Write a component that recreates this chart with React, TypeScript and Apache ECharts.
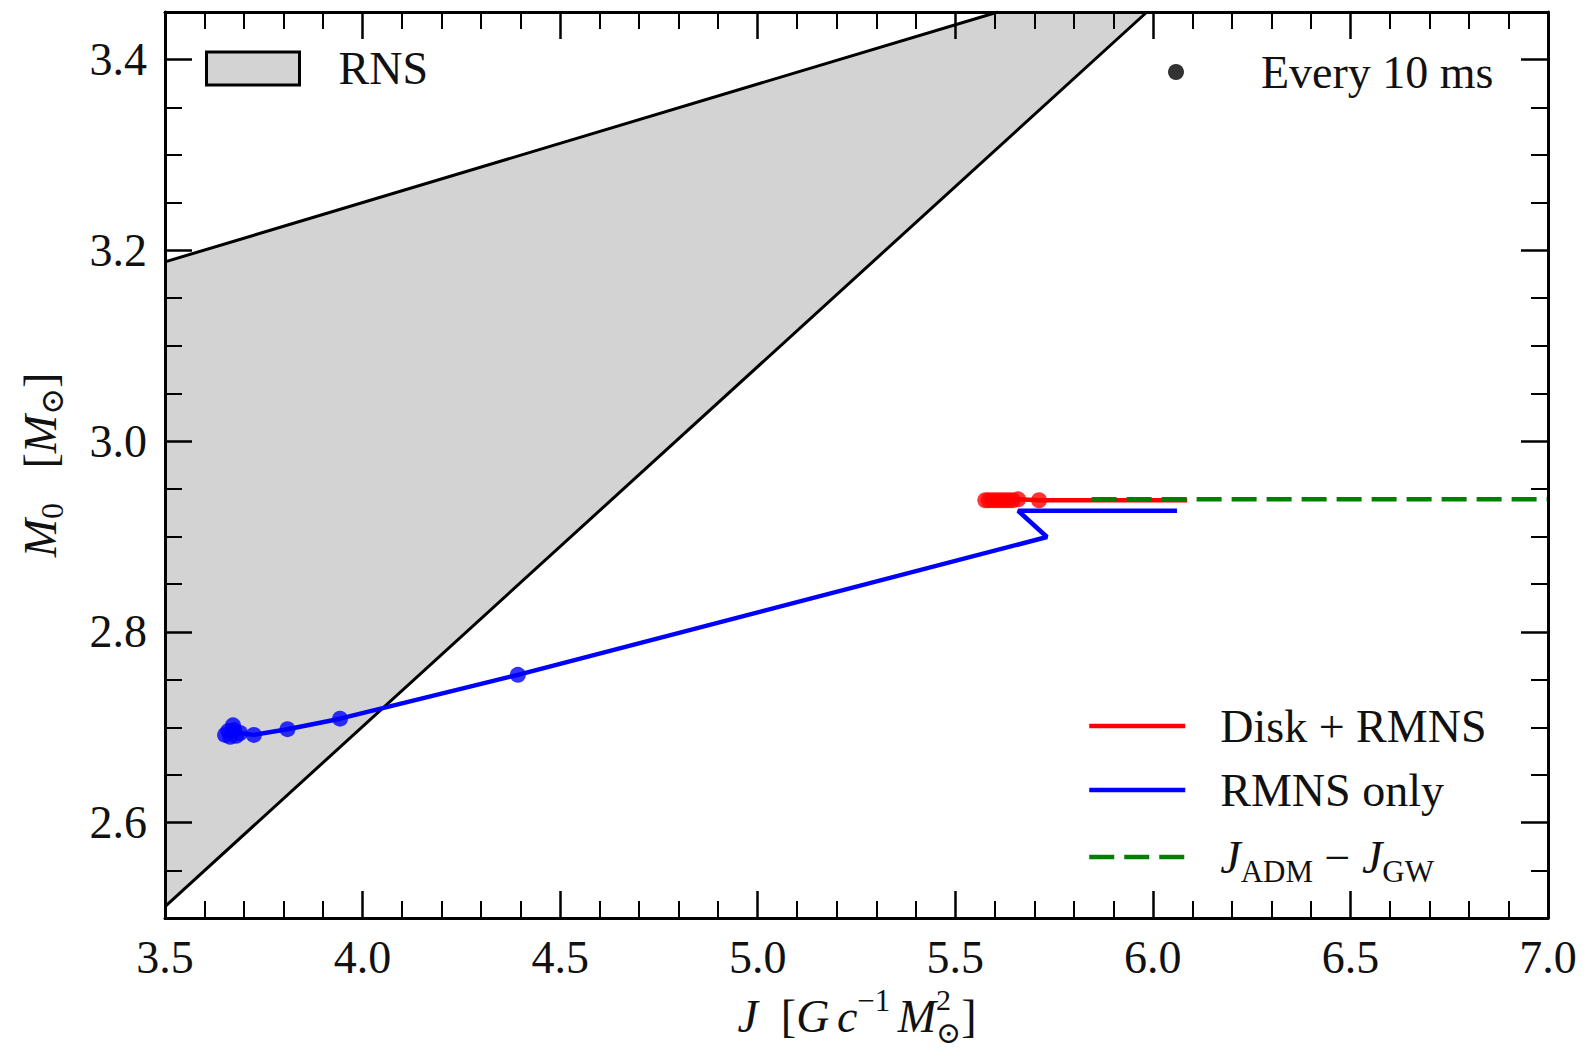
import React, { useEffect, useRef } from 'react';
import * as echarts from 'echarts';

// ---- axis ranges ----
const X_MIN = 3.5;
const X_MAX = 7.0;
const X_INTERVAL = 0.5;
const Y_MIN = 2.5;
const Y_MAX = 3.45;

// ---- RNS region boundaries (J, M0) ----
const rnsUpper = [[3.5, 3.188], [5.608, 3.45]];
const rnsLower = [[3.5, 2.512], [5.985, 3.45]];

// ---- Disk + RMNS (red) ----
const diskRmnsLine = [[6.087, 2.938], [5.712, 2.938], [5.659, 2.939], [5.645, 2.938], [5.576, 2.938]];
const diskRmnsDots = [
  [5.576, 2.938], [5.585, 2.938], [5.595, 2.938], [5.605, 2.938], [5.615, 2.938],
  [5.625, 2.938], [5.635, 2.938], [5.645, 2.938], [5.659, 2.939], [5.712, 2.938],
];

// ---- RMNS only (blue) ----
const rmnsOnlyLine = [
  [6.061, 2.927], [5.659, 2.927], [5.732, 2.8995], [4.393, 2.755], [3.943, 2.709],
  [3.81, 2.698], [3.725, 2.692], [3.69, 2.694], [3.672, 2.702], [3.66, 2.696],
  [3.652, 2.692], [3.665, 2.69],
];
const rmnsOnlyDots = [
  [4.393, 2.755], [3.943, 2.709], [3.81, 2.698], [3.725, 2.692], [3.69, 2.694],
  [3.672, 2.702], [3.675, 2.697], [3.66, 2.696], [3.652, 2.692], [3.665, 2.69], [3.68, 2.691],
];

// ---- J_ADM - J_GW (green dashed) ----
const jAdmGwLine = [[5.845, 2.939], [7.0, 2.939]];

const FONT = '"Liberation Serif", "DejaVu Serif", serif';
const TXT = '#111';

type Piece = { t: string; size: number; italic?: boolean; dy?: number; stack?: boolean };

function mathGroup(pieces: Piece[], cx: number, cy: number, rotation: number) {
  const ctx = document.createElement('canvas').getContext('2d') as CanvasRenderingContext2D;
  const fontOf = (p: Piece) => `${p.italic ? 'italic ' : ''}${p.size}px ${FONT}`;
  const placed: { p: Piece; x: number }[] = [];
  let x = 0;
  for (let k = 0; k < pieces.length; k++) {
    const p = pieces[k];
    ctx.font = fontOf(p);
    const w = ctx.measureText(p.t).width;
    placed.push({ p, x });
    if (p.stack && k + 1 < pieces.length) {
      const q = pieces[k + 1];
      ctx.font = fontOf(q);
      const w2 = ctx.measureText(q.t).width;
      placed.push({ p: q, x });
      x += Math.max(w, w2);
      k++;
    } else {
      x += w;
    }
  }
  const total = x;
  return {
    type: 'group',
    x: cx,
    y: cy,
    rotation,
    silent: true,
    children: placed.map(({ p, x: px }) => ({
      type: 'text',
      x: px - total / 2,
      y: p.dy || 0,
      style: {
        text: p.t,
        font: fontOf(p),
        fill: TXT,
        align: 'left',
        verticalAlign: 'middle',
        textAlign: 'left',
        textVerticalAlign: 'middle',
      },
    })),
  };
}

export default function App() {
  const ref = useRef<HTMLDivElement>(null);

  useEffect(() => {
    if (!ref.current) return;
    const chart = echarts.init(ref.current, undefined, { renderer: 'svg' });

    const axisLine = { show: true, lineStyle: { color: '#000', width: 3 } };
    const majorTick = { show: true, inside: true, length: 27, lineStyle: { color: '#000', width: 2.5 } };
    const minorTickX = { show: true, splitNumber: 5, length: 17, lineStyle: { color: '#000', width: 2 } };
    const minorTickY = { show: true, splitNumber: 4, length: 17, lineStyle: { color: '#000', width: 2 } };
    const labelStyle = { fontFamily: FONT, fontSize: 46, color: TXT };

    const xTitle = mathGroup(
      [
        { t: 'J', size: 46, italic: true },
        { t: '  ', size: 46 },
        { t: '[', size: 46 },
        { t: 'G', size: 46, italic: true },
        { t: ' ', size: 30 },
        { t: 'c', size: 46, italic: true },
        { t: '−1', size: 31, dy: -16 },
        { t: ' ', size: 30 },
        { t: 'M', size: 46, italic: true },
        { t: '2', size: 30, dy: -17, stack: true },
        { t: '⊙', size: 30, dy: 16 },
        { t: ']', size: 46 },
      ],
      857,
      1016,
      0
    );
    const yTitle = mathGroup(
      [
        { t: 'M', size: 46, italic: true },
        { t: '0', size: 32, dy: 12 },
        { t: '   ', size: 46 },
        { t: '[', size: 46 },
        { t: 'M', size: 46, italic: true },
        { t: '⊙', size: 32, dy: 12 },
        { t: ']', size: 46 },
      ],
      40,
      465,
      Math.PI / 2
    );

    const legendBase = {
      orient: 'horizontal',
      padding: 0,
      selectedMode: false,
      lineStyle: { width: 4.5, type: 'inherit' },
      textStyle: {
        fontFamily: FONT,
        fontSize: 46,
        color: TXT,
        lineHeight: 60,
        padding: [0, 0, 0, 30],
        rich: {
          i: { fontFamily: FONT, fontSize: 46, fontStyle: 'italic', color: TXT, lineHeight: 60 },
          n: { fontFamily: FONT, fontSize: 46, color: TXT, lineHeight: 60 },
          sub: { fontFamily: FONT, fontSize: 31, color: TXT, lineHeight: 30, verticalAlign: 'bottom' },
        },
      },
    };

    const option: any = {
      animation: false,
      backgroundColor: '#fff',
      grid: { left: 165, right: 37, top: 12, bottom: 137, containLabel: false, outerBoundsMode: 'none' },
      xAxis: [
        {
          type: 'value', min: X_MIN, max: X_MAX, interval: X_INTERVAL, position: 'bottom', z: 10,
          axisLine, axisTick: majorTick, minorTick: minorTickX, splitLine: { show: false },
          axisLabel: { ...labelStyle, margin: 16, formatter: (v: number) => v.toFixed(1) },
        },
        {
          type: 'value', min: X_MIN, max: X_MAX, interval: X_INTERVAL, position: 'top', z: 10,
          axisLine, axisTick: majorTick, minorTick: minorTickX, splitLine: { show: false },
          axisLabel: { show: false },
        },
      ],
      yAxis: [
        {
          type: 'value', min: Y_MIN, max: Y_MAX, splitNumber: 5, position: 'left', z: 10,
          axisLine, axisTick: majorTick, minorTick: minorTickY, splitLine: { show: false },
          axisLabel: { ...labelStyle, margin: 18, showMinLabel: false, showMaxLabel: false, formatter: (v: number) => v.toFixed(1) },
        },
        {
          type: 'value', min: Y_MIN, max: Y_MAX, splitNumber: 5, position: 'right', z: 10,
          axisLine, axisTick: majorTick, minorTick: minorTickY, splitLine: { show: false },
          axisLabel: { show: false },
        },
      ],
      legend: [
        {
          ...legendBase,
          left: 205, top: 38.5, itemWidth: 93, itemHeight: 33,
          textStyle: { ...legendBase.textStyle, padding: [0, 0, 0, 34] },
          data: [{ name: 'RNS', icon: 'rect', itemStyle: { color: '#d3d3d3', borderColor: '#000', borderWidth: 3 } }],
        },
        {
          ...legendBase,
          left: 1168, top: 42, itemWidth: 16, itemHeight: 16,
          textStyle: { ...legendBase.textStyle, padding: [0, 0, 0, 72] },
          data: [{ name: 'Every 10 ms', icon: 'circle', itemStyle: { color: '#000' } }],
        },
        { ...legendBase, left: 1087, top: 696, itemWidth: 96, itemHeight: 2, data: ['Disk + RMNS'] },
        { ...legendBase, left: 1087, top: 760, itemWidth: 96, itemHeight: 2, data: ['RMNS only'] },
        {
          ...legendBase, left: 1087, top: 827, itemWidth: 96, itemHeight: 2, data: ['J_ADM − J_GW'],
          formatter: () => '{i|J}{sub|ADM}{n| − }{i|J}{sub|GW}',
        },
      ],
      graphic: [xTitle, yTitle],
      series: [
        {
          name: 'RNS',
          type: 'custom',
          coordinateSystem: 'cartesian2d',
          xAxisIndex: 0,
          yAxisIndex: 0,
          z: 1,
          silent: true,
          itemStyle: { color: '#d3d3d3' },
          data: [[X_MIN, Y_MIN]],
          renderItem: (_params: any, api: any) => {
            const pts = [rnsLower[0], rnsUpper[0], rnsUpper[1], rnsLower[1]].map((p) => api.coord(p));
            return { type: 'polygon', shape: { points: pts }, style: { fill: '#d3d3d3' } };
          },
        },
        {
          name: 'RNS upper', type: 'line', data: rnsUpper, symbol: 'none', z: 2, silent: true,
          lineStyle: { color: '#000', width: 3 },
        },
        {
          name: 'RNS lower', type: 'line', data: rnsLower, symbol: 'none', z: 2, silent: true,
          lineStyle: { color: '#000', width: 3 },
        },
        {
          name: 'RMNS only', type: 'line', data: rmnsOnlyLine, symbol: 'none', z: 3, silent: true,
          itemStyle: { color: '#0000ff' }, lineStyle: { color: '#0000ff', width: 4.5 },
        },
        {
          name: 'RMNS only dots', type: 'scatter', data: rmnsOnlyDots, symbol: 'circle', symbolSize: 16, z: 3, silent: true,
          itemStyle: { color: '#0000ff' },
        },
        {
          name: 'Disk + RMNS', type: 'line', data: diskRmnsLine, symbol: 'none', z: 4, silent: true,
          itemStyle: { color: '#ff0000' }, lineStyle: { color: '#ff0000', width: 4.5 },
        },
        {
          name: 'Disk + RMNS dots', type: 'scatter', data: diskRmnsDots, symbol: 'circle', symbolSize: 16, z: 4, silent: true,
          itemStyle: { color: '#ff0000' },
        },
        {
          name: 'J_ADM − J_GW', type: 'line', data: jAdmGwLine, symbol: 'none', z: 5, silent: true,
          itemStyle: { color: '#008000' }, lineStyle: { color: '#008000', width: 4.5, type: [25, 10] },
        },
        {
          name: 'Every 10 ms', type: 'scatter', data: [], symbol: 'circle', symbolSize: 16, silent: true,
          itemStyle: { color: '#000' },
        },
      ],
    };

    chart.setOption(option);
    return () => chart.dispose();
  }, []);

  return (
    <div
      ref={ref}
      style={{ position: 'absolute', left: 0, top: 0, width: 1585, height: 1055, background: '#fff' }}
    />
  );
}
